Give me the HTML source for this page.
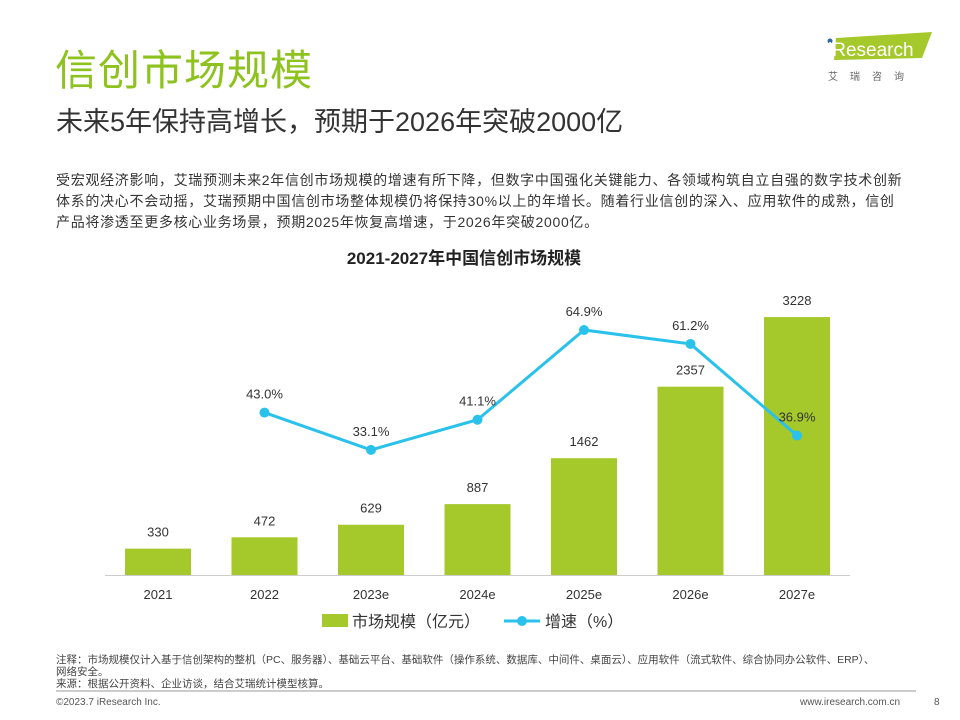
<!DOCTYPE html>
<html><head><meta charset="utf-8"><style>
body{margin:0;width:960px;height:720px;background:#fff;font-family:"Liberation Sans","Noto Sans CJK SC",sans-serif;position:relative;overflow:hidden}
.a{position:absolute;margin:0}
</style></head><body>
<div class="a" style="left:55px;top:37px;font-size:42px;color:#8dc21f;letter-spacing:1px">信创市场规模</div>
<div class="a" style="left:56px;top:100px;font-size:27px;color:#333">未来5年保持高增长，预期于2026年突破2000亿</div>
<div class="a" style="left:820px;top:30px;width:120px;height:60px">
<svg width="120" height="60"><polygon points="16,8 112,2 102,28 14,30" fill="#a5c82a"/><circle cx="10" cy="11" r="2.5" fill="#2a6bb0"/><text x="8" y="26" font-size="19" fill="#fff" font-family="Liberation Sans">iResearch</text><text x="8" y="50" font-size="10" fill="#666" letter-spacing="12" font-family="Noto Sans CJK SC">艾瑞咨询</text></svg></div>
<div class="a" style="left:56px;top:170px;width:900px;font-size:14px;line-height:21px;color:#333;white-space:nowrap;letter-spacing:0.7px">受宏观经济影响，艾瑞预测未来2年信创市场规模的增速有所下降，但数字中国强化关键能力、各领域构筑自立自强的数字技术创新<br>体系的决心不会动摇，艾瑞预期中国信创市场整体规模仍将保持30%以上的年增长。随着行业信创的深入、应用软件的成熟，信创<br>产品将渗透至更多核心业务场景，预期2025年恢复高增速，于2026年突破2000亿。</div>
<div class="a" style="left:0;width:960px;top:244px;text-align:center;font-size:17px;font-weight:bold;color:#222;margin-left:-16px">2021-2027年中国信创市场规模</div>
<svg id="chart" class="a" style="left:0;top:0" width="960" height="720"></svg>
<div class="a" style="left:56px;top:654px;font-size:10.5px;line-height:12px;color:#444;white-space:nowrap">注释：市场规模仅计入基于信创架构的整机（PC、服务器）、基础云平台、基础软件（操作系统、数据库、中间件、桌面云）、应用软件（流式软件、综合协同办公软件、ERP）、<br>网络安全。<br>来源：根据公开资料、企业访谈，结合艾瑞统计模型核算。</div>
<div class="a" style="left:56px;top:690px;width:860px;height:2px;background:#ccc"></div>
<div class="a" style="left:56px;top:697px;font-size:10px;color:#555">©2023.7 iResearch Inc.</div>
<div class="a" style="left:800px;top:697px;font-size:10px;color:#555">www.iresearch.com.cn</div>
<div class="a" style="left:934px;top:697px;font-size:10px;color:#555">8</div>
<script>
const categories=["2021","2022","2023e","2024e","2025e","2026e","2027e"];
const marketSize=[330,472,629,887,1462,2357,3228];
const growth=[null,43.0,33.1,41.1,64.9,61.2,36.9];
const growthLabels=["","43.0%","33.1%","41.1%","64.9%","61.2%","36.9%"];
const svg=document.getElementById('chart');
const NS='http://www.w3.org/2000/svg';
function x(i){return 158+i*106.5;}
function yb(v){return 575-v*0.0799;}
function yl(p){return 330+(64.9-p)*3.77;}
function mk(t,a,txt){const e=document.createElementNS(NS,t);for(const k in a)e.setAttribute(k,a[k]);if(txt!==undefined)e.textContent=txt;svg.appendChild(e);return e;}
const ax=mk('line',{x1:105,x2:850,y1:575.5,y2:575.5,stroke:'#ccc'});


categories.forEach((c,i)=>{
 const b=mk('rect',{x:x(i)-33,y:yb(marketSize[i]),width:66,height:575-yb(marketSize[i]),fill:'#a5c82a'});
 
 
 const t=mk('text',{x:x(i),y:yb(marketSize[i])-12,'text-anchor':'middle','font-size':13,fill:'#333'},marketSize[i]);
 
 
 const l=mk('text',{x:x(i),y:599,'text-anchor':'middle','font-size':13,fill:'#333'},c);
 
 
});
let d='';growth.forEach((g,i)=>{if(g!==null)d+=(d?'L':'M')+x(i)+','+yl(g);});
const p=mk('path',{d:d,fill:'none',stroke:'#2ac1ea','stroke-width':3});


growth.forEach((g,i)=>{if(g===null)return;
 const c=mk('circle',{cx:x(i),cy:yl(g),r:5,fill:'#2ac1ea'});
 
 
 const t=mk('text',{x:x(i),y:yl(g)-14,'text-anchor':'middle','font-size':13,fill:'#333'},growthLabels[i]);
 
 
});
const lg1=mk('rect',{x:322,y:614,width:26,height:13,fill:'#a5c82a'});


const lt1=mk('text',{x:352,y:627,'font-size':16,fill:'#333'},'市场规模（亿元）');


const lg2=mk('line',{x1:504,x2:540,y1:621,y2:621,stroke:'#2ac1ea','stroke-width':3});


const lc=mk('circle',{cx:522,cy:621,r:5,fill:'#2ac1ea'});


const lt2=mk('text',{x:545,y:627,'font-size':16,fill:'#333'},'增速（%）');


</script>
</body></html>
